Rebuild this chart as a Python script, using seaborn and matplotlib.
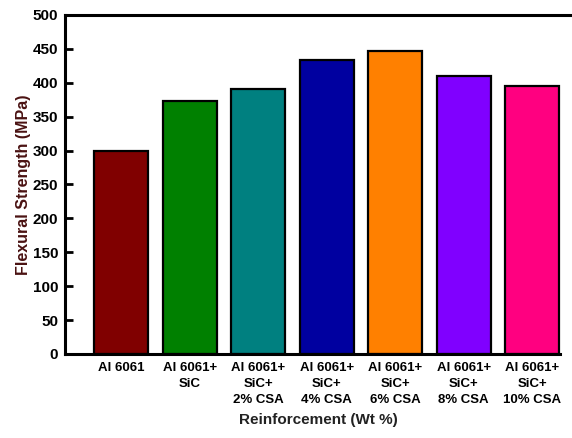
import matplotlib
matplotlib.use("Agg")
import matplotlib.pyplot as plt
import seaborn as sns
import pandas as pd

categories = ["Al 6061", "Al 6061+\nSiC", "Al 6061+\nSiC+\n2% CSA", "Al 6061+\nSiC+\n4% CSA",
              "Al 6061+\nSiC+\n6% CSA", "Al 6061+\nSiC+\n8% CSA", "Al 6061+\nSiC+\n10% CSA"]
strength = [300, 373, 391, 434, 447, 410, 395]
colors = ["#800000", "#008000", "#008080", "#0000A0", "#FF8000", "#8000FF", "#FF0080"]

sns.set_style("ticks")
plt.rcParams["font.family"] = ["Liberation Sans", "DejaVu Sans"]
plt.rcParams["font.weight"] = "bold"

df = pd.DataFrame({"cat": categories, "val": strength})

fig = plt.figure(figsize=(5.72, 4.38), dpi=100)
ax = fig.add_axes([0.1136, 0.1918, 0.8864, 0.774])

sns.barplot(data=df, x="cat", y="val", hue="cat", palette=colors, legend=False,
            width=0.79, edgecolor="black", linewidth=1.6, saturation=1, ax=ax)

ax.set_ylim(0, 500)
ax.set_yticks(range(0, 501, 50))
ax.set_xlim(-0.82, 6.58)
ax.spines["right"].set_visible(False)
ax.spines["bottom"].set_bounds(-0.82, 6.41)
for s in ["left", "bottom", "top"]:
    ax.spines[s].set_linewidth(2.2)
    ax.spines[s].set_color("black")
ax.tick_params(axis="both", direction="in", length=6, width=2, colors="black", pad=5)
ax.tick_params(axis="y", labelsize=11)
ax.tick_params(axis="x", labelsize=9.5, pad=6)
for lab in ax.get_xticklabels():
    lab.set_horizontalalignment("center")
    lab.set_fontweight("bold")
    lab.set_linespacing(1.45)
for lab in ax.get_yticklabels():
    lab.set_fontweight("bold")

ax.set_ylabel("Flexural Strength (MPa)", fontsize=11.5, fontweight="bold", color="#4a1212", labelpad=1)
ax.set_xlabel("Reinforcement (Wt %)", fontsize=11, fontweight="bold", color="#222222", labelpad=5)

fig.savefig("out.png", dpi=100)
